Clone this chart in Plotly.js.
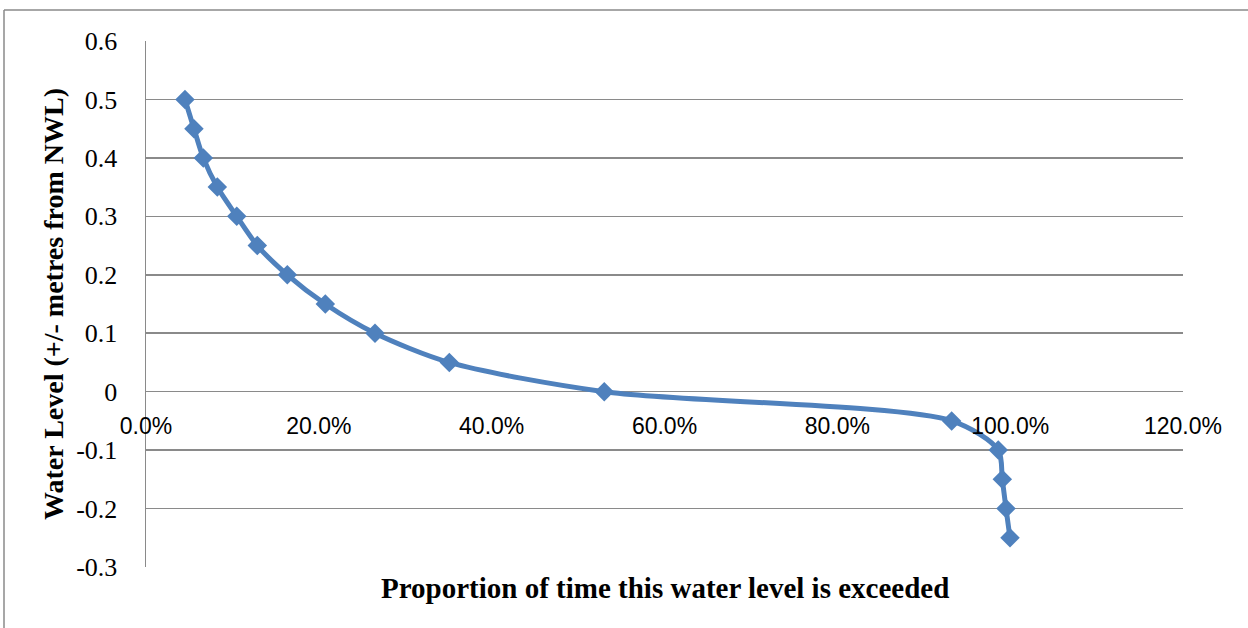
<!DOCTYPE html>
<html>
<head>
<meta charset="utf-8">
<script src="https://cdn.plot.ly/plotly-3.0.1.min.js"></script>
<style>
html,body{margin:0;padding:0;background:#fff;}
#chart{width:1248px;height:628px;}
</style>
</head>
<body>
<div id="chart"></div>
<script>
// Proportion of time the water level is exceeded (fraction)
const exceedance = [0.0451, 0.0555, 0.0663, 0.0825, 0.1050, 0.1288, 0.1635, 0.2075, 0.2650, 0.3510, 0.5303, 0.9323, 0.9862, 0.9909, 0.9952, 0.9998];
// Water level (+/- metres from NWL)
const waterLevel = [0.5, 0.45, 0.4, 0.35, 0.3, 0.25, 0.2, 0.15, 0.1, 0.05, 0, -0.05, -0.1, -0.15, -0.2, -0.25];
// Axis ticks
const yTickVals = [-0.3, -0.2, -0.1, 0, 0.1, 0.2, 0.3, 0.4, 0.5, 0.6];
const yTickText = ["-0.3", "-0.2", "-0.1", "0", "0.1", "0.2", "0.3", "0.4", "0.5", "0.6"];
const xTickVals = [0, 0.2, 0.4, 0.6, 0.8, 1.0, 1.2];
const xTickText = ["0.0%", "20.0%", "40.0%", "60.0%", "80.0%", "100.0%", "120.0%"];
const xTitle = "Proportion of time this water level is exceeded";
const yTitle = "Water Level (+/- metres from NWL)";

const gridColor = "#8a8a8a";
const serif = "Liberation Serif, Times New Roman, serif";
const trace = {
  x: exceedance,
  y: waterLevel,
  type: "scatter",
  mode: "lines+markers",
  line: {color: "#4F81BD", width: 5, shape: "spline", smoothing: 0.8},
  marker: {symbol: "diamond", size: 15, color: "#4F81BD"},
  showlegend: false,
  hoverinfo: "x+y"
};

const layout = {
  width: 1248,
  height: 628,
  margin: {l: 146, r: 65, t: 41, b: 61},
  paper_bgcolor: "#fff",
  plot_bgcolor: "#fff",
  showlegend: false,
  xaxis: {
    range: [0, 1.2],
    tickmode: "array",
    tickvals: xTickVals,
    ticktext: xTickText,
    showgrid: false,
    zeroline: false,
    showline: false,
    ticks: "",
    anchor: "free",
    position: 1/3,
    ticklabelstandoff: 18,
    tickfont: {family: "Liberation Sans, Arial, sans-serif", size: 23, color: "#000"},
    title: {text: ""}
  },
  yaxis: {
    range: [-0.3, 0.6],
    tickmode: "array",
    tickvals: yTickVals,
    ticktext: yTickText,
    showgrid: true,
    gridcolor: gridColor,
    gridwidth: 1.5,
    zeroline: true,
    zerolinecolor: gridColor,
    zerolinewidth: 1.5,
    showline: true,
    linecolor: gridColor,
    linewidth: 1.5,
    ticks: "",
    ticklabelstandoff: 22,
    tickfont: {family: serif, size: 26, color: "#000"},
    title: {text: "<b>" + yTitle + "</b>", font: {family: serif, size: 28, color: "#000"}, standoff: 4},
    automargin: false
  },
  annotations: [{
    text: "<b>" + xTitle + "</b>",
    xref: "paper", yref: "paper",
    x: 0.5, y: (567 - 588) / 526,
    xanchor: "center", yanchor: "middle",
    showarrow: false,
    font: {family: serif, size: 29, color: "#000"}
  }],
  shapes: [
    {type: "line", xref: "paper", yref: "paper", x0: (4 - 146) / 1037, x1: (4 - 146) / 1037, y0: -0.3, y1: 1 + 31 / 526, line: {color: "#8a8a8a", width: 1.5}},
    {type: "line", xref: "paper", yref: "paper", x0: (4 - 146) / 1037, x1: 1.2, y0: 1 + 31 / 526, y1: 1 + 31 / 526, line: {color: "#8a8a8a", width: 1.5}}
  ]
};

Plotly.newPlot("chart", [trace], layout, {displayModeBar: false, staticPlot: true});
</script>
</body>
</html>
